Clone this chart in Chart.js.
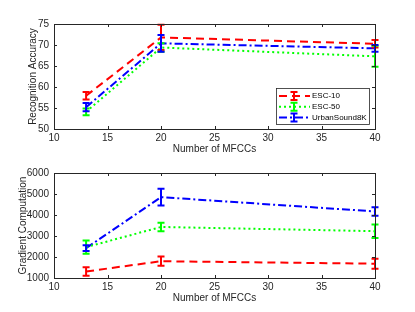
<!DOCTYPE html>
<html>
<head>
<meta charset="utf-8">
<script src="https://cdn.jsdelivr.net/npm/chart.js@4"></script>
<style>
  body { margin: 0; background: #fff; }
  canvas { position: absolute; left: 0; }
</style>
</head>
<body>
<canvas id="cTop" width="415" height="155" style="top:0"></canvas>
<canvas id="cBot" width="415" height="157" style="top:155px"></canvas>
<script>
// x positions (number of MFCCs)
const mfcc = [13, 20, 40];
const seriesNames = ['ESC-10', 'ESC-50', 'UrbanSound8K'];

// recognition accuracy (top)
const accEsc10 = [57.9, 71.8, 70.3];
const accEsc10Err = [0.9, 3.0, 0.9];
const accEsc50 = [54.1, 69.4, 67.3];
const accEsc50Err = [0.8, 1.0, 2.5];
const accUrban = [55.2, 70.4, 69.2];
const accUrbanErr = [1.0, 2.0, 0.8];

// gradient computation (bottom)
const gradEsc10 = [1310, 1800, 1680];
const gradEsc10Err = [200, 220, 240];
const gradEsc50 = [2470, 3430, 3230];
const gradEsc50Err = [310, 200, 320];
const gradUrban = [2420, 4850, 4170];
const gradUrbanErr = [140, 400, 200];

const xTicks = [10, 15, 20, 25, 30, 35, 40];

const axisColor = '#262626';
const font = "'Liberation Sans', Arial, sans-serif";

// line look per series
const styles = [
  { color: '#ff0000', dash: [8, 5] },
  { color: '#00ff00', dash: [2, 3] },
  { color: '#0000ff', dash: [8, 3, 2, 3] }
];

function makeSets(vals, errs) {
  return vals.map((v, k) => ({
    label: seriesNames[k],
    data: v.map((y, i) => ({ x: mfcc[i], y: y })),
    err: errs[k],
    borderColor: styles[k].color,
    borderDash: styles[k].dash,
    borderWidth: 2,
    pointRadius: 0,
    fill: false,
    tension: 0
  }));
}

// vertical error bars with caps
const errorBars = {
  id: 'errorBars',
  afterDatasetsDraw(chart) {
    const ctx = chart.ctx, xs = chart.scales.x, ys = chart.scales.y;
    chart.data.datasets.forEach(ds => {
      ctx.save();
      ctx.strokeStyle = ds.borderColor;
      ctx.lineWidth = 2;
      ctx.setLineDash([]);
      ds.data.forEach((p, i) => {
        const x = xs.getPixelForValue(p.x);
        const hi = ys.getPixelForValue(p.y + ds.err[i]);
        const lo = ys.getPixelForValue(p.y - ds.err[i]);
        ctx.beginPath();
        ctx.moveTo(x, hi); ctx.lineTo(x, lo);
        ctx.moveTo(x - 3.5, hi); ctx.lineTo(x + 3.5, hi);
        ctx.moveTo(x - 3.5, lo); ctx.lineTo(x + 3.5, lo);
        ctx.stroke();
      });
      ctx.restore();
    });
  }
};

// matlab style box with inward ticks
const boxAxes = {
  id: 'boxAxes',
  afterDraw(chart) {
    const ctx = chart.ctx, a = chart.chartArea;
    const xs = chart.scales.x, ys = chart.scales.y;
    ctx.save();
    ctx.strokeStyle = axisColor;
    ctx.lineWidth = 1;
    ctx.strokeRect(a.left + 0.5, a.top + 0.5, a.right - a.left, a.bottom - a.top);
    ctx.beginPath();
    xs.ticks.forEach(t => {
      const x = Math.round(xs.getPixelForValue(t.value)) + 0.5;
      ctx.moveTo(x, a.bottom); ctx.lineTo(x, a.bottom - 3);
      ctx.moveTo(x, a.top); ctx.lineTo(x, a.top + 3);
    });
    ys.ticks.forEach(t => {
      const y = Math.round(ys.getPixelForValue(t.value)) + 0.5;
      ctx.moveTo(a.left, y); ctx.lineTo(a.left + 3, y);
      ctx.moveTo(a.right, y); ctx.lineTo(a.right - 3, y);
    });
    ctx.stroke();
    ctx.restore();
  }
};

// legend box inside the top plot
const boxLegend = {
  id: 'boxLegend',
  afterDraw(chart, args, opts) {
    if (!opts.show) return;
    const ctx = chart.ctx, a = chart.chartArea;
    const w = 93, h = 36;
    const x0 = a.right - 6 - w, y0 = a.bottom - 5 - h;
    ctx.save();
    ctx.fillStyle = '#fff';
    ctx.fillRect(x0, y0, w, h);
    ctx.strokeStyle = axisColor;
    ctx.lineWidth = 0.8;
    ctx.strokeRect(x0 + 0.5, y0 + 0.5, w, h);
    chart.data.datasets.forEach((ds, k) => {
      const y = y0 + 8 + k * 10.8;
      ctx.strokeStyle = ds.borderColor;
      ctx.lineWidth = 2;
      ctx.setLineDash(ds.borderDash);
      ctx.beginPath();
      ctx.moveTo(x0 + 3, y); ctx.lineTo(x0 + 34, y);
      ctx.stroke();
      ctx.setLineDash([]);
      const mx = x0 + 18;
      ctx.beginPath();
      ctx.moveTo(mx, y - 4); ctx.lineTo(mx, y + 4);
      ctx.moveTo(mx - 3.5, y - 4); ctx.lineTo(mx + 3.5, y - 4);
      ctx.moveTo(mx - 3.5, y + 4); ctx.lineTo(mx + 3.5, y + 4);
      ctx.stroke();
      ctx.fillStyle = '#000';
      ctx.font = '8px ' + font;
      ctx.textBaseline = 'middle';
      ctx.fillText(ds.label, x0 + 36, y);
    });
    ctx.restore();
  }
};

function makeChart(id, sets, yMin, yMax, yStep, yTitle, yTitlePad, xHeight, padTop, padBottom, legend) {
  return new Chart(document.getElementById(id), {
    type: 'line',
    data: { datasets: sets },
    options: {
      responsive: false,
      animation: false,
      layout: { padding: { left: 0, right: 40, top: padTop, bottom: padBottom } },
      plugins: {
        legend: { display: false },
        tooltip: { enabled: false },
        boxLegend: { show: legend }
      },
      scales: {
        x: {
          type: 'linear',
          min: 10, max: 40,
          afterBuildTicks: s => { s.ticks = xTicks.map(v => ({ value: v })); },
          afterFit: s => { s.height = xHeight; },
          grid: { display: false, tickLength: 0 },
          border: { display: false },
          ticks: { color: axisColor, font: { family: font, size: 10 }, padding: 3, maxRotation: 0,
                   callback: v => String(v) },
          title: { display: true, text: 'Number of MFCCs', color: axisColor,
                   font: { family: font, size: 10 }, padding: 0 }
        },
        y: {
          min: yMin, max: yMax,
          ticks: { stepSize: yStep, color: axisColor, font: { family: font, size: 10 }, padding: 5,
                   callback: v => String(v) },
          afterFit: s => { s.width = 54; },
          grid: { display: false, tickLength: 0 },
          border: { display: false },
          title: { display: true, text: yTitle, color: axisColor,
                   font: { family: font, size: 10 }, padding: { top: yTitlePad, bottom: 0 } }
        }
      }
    },
    plugins: [errorBars, boxAxes, boxLegend]
  });
}

makeChart('cTop',
  makeSets([accEsc10, accEsc50, accUrban], [accEsc10Err, accEsc50Err, accUrbanErr]),
  50, 75, 5, 'Recognition Accuracy', 27, 26, 24, 0, true);

makeChart('cBot',
  makeSets([gradEsc10, gradEsc50, gradUrban], [gradEsc10Err, gradEsc50Err, gradUrbanErr]),
  1000, 6000, 1000, 'Gradient Computation', 17, 26, 18, 8, false);
</script>
</body>
</html>
